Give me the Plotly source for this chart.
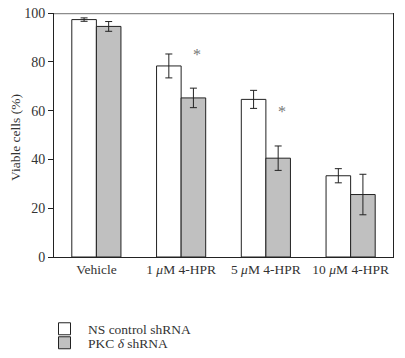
import plotly.graph_objects as go

categories = ["Vehicle", "1 <i>μ</i>M 4-HPR", "5 <i>μ</i>M 4-HPR", "10 <i>μ</i>M 4-HPR"]
ns_values = [97.3, 78.3, 64.6, 33.3]
ns_errors = [0.7, 4.9, 3.7, 2.9]
pkc_values = [94.5, 65.2, 40.5, 25.6]
pkc_errors = [2.0, 4.0, 5.0, 8.3]
significant = [False, True, True, False]
y_ticks = [0, 20, 40, 60, 80, 100]

FONT = "Liberation Serif"
TXT = "#333"
W, H = 405, 358

fig = go.Figure()
fig.add_trace(go.Bar(
    x=categories, y=ns_values, name="NS control shRNA", legend="legend",
    marker=dict(color="white", line=dict(color="#222", width=1)),
    error_y=dict(type="data", array=ns_errors, color="#222", thickness=1, width=3.5),
))
fig.add_trace(go.Bar(
    x=categories, y=pkc_values, name="PKC <i>δ</i> shRNA", legend="legend2",
    marker=dict(color="#c0c0c0", line=dict(color="#222", width=1)),
    error_y=dict(type="data", array=pkc_errors, color="#222", thickness=1, width=3.5),
))

for cat, sig, v, e in zip(categories, significant, pkc_values, pkc_errors):
    if sig:
        fig.add_annotation(x=cat, y=v + e, text="*", showarrow=False,
                           xshift=16, yshift=34,
                           font=dict(family=FONT, size=16, color="#777"))

fig.add_annotation(xref="paper", yref="paper", x=0, y=0.49, xshift=-48,
                   text="Viable cells (%)", textangle=-90, showarrow=False,
                   font=dict(family=FONT, size=13.5, color=TXT))

fig.add_shape(type="line", xref="paper", yref="y", x0=0, x1=1, y0=100, y1=100,
              line=dict(color="#8c8c8c", width=2.5))

leg_common = dict(xref="container", yref="container", xanchor="left", yanchor="middle",
                  font=dict(family=FONT, size=13.5, color=TXT), bgcolor="rgba(0,0,0,0)",
                  borderwidth=0, itemwidth=37)

fig.update_layout(
    width=W, height=H,
    margin=dict(l=54, r=12, t=13, b=101, autoexpand=False),
    paper_bgcolor="white", plot_bgcolor="white",
    barmode="group", bargap=0.42, bargroupgap=0,
    font=dict(family=FONT, size=13.5, color=TXT),
    showlegend=True,
    legend=dict(x=41 / W, y=1 - 329 / H, **leg_common),
    legend2=dict(x=41 / W, y=1 - 343 / H, **leg_common),
    xaxis=dict(showline=True, linecolor="#222", linewidth=1, ticks="", automargin=False,
               tickfont=dict(family=FONT, size=13.5, color=TXT), showgrid=False),
    yaxis=dict(range=[0, 100], tickvals=y_ticks, showline=True, linecolor="#222",
               linewidth=1, mirror=True, ticks="outside", ticklen=5, tickcolor="#222",
               showgrid=False, zeroline=False, automargin=False,
               tickfont=dict(family=FONT, size=14, color=TXT)),
)

fig.write_html(
    "out.html",
    config={"displayModeBar": False},
    post_script="document.body.style.margin='0';document.body.style.overflow='hidden';",
)
